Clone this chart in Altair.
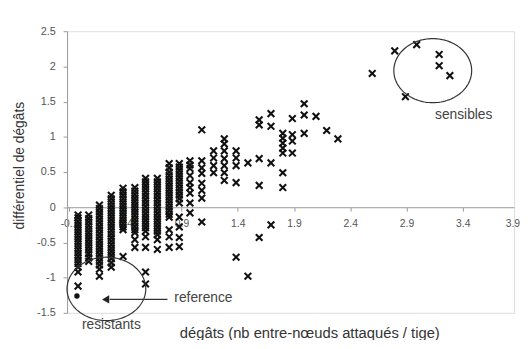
import altair as alt
import pandas as pd
import numpy as np

# x positions of the point columns (damage, nb attacked internodes / stem)
col_x = [-0.02, 0.075, 0.17, 0.275, 0.38, 0.485, 0.58, 0.685, 0.79, 0.88, 0.975, 1.08,
         1.185, 1.28, 1.385, 1.49, 1.59, 1.695, 1.8, 1.885, 1.99, 2.095, 2.19, 2.29]

y_00 = [-0.11, -0.15, -0.2, -0.25, -0.3, -0.35, -0.4, -0.45, -0.5, -0.55, -0.6, -0.65, -0.7, -0.75, -0.8, -0.85, -0.92, -1.12]
y_01 = [-0.11, -0.16, -0.21, -0.26, -0.31, -0.36, -0.41, -0.46, -0.51, -0.56, -0.61, -0.66, -0.72, -0.77]
y_02 = [0.03, -0.02, -0.07, -0.12, -0.17, -0.22, -0.27, -0.32, -0.37, -0.42, -0.47, -0.52, -0.57, -0.62, -0.67, -0.72, -0.77, -0.82, -0.88, -0.98]
y_03 = [0.17, 0.12, 0.07, 0.02, -0.03, -0.08, -0.13, -0.18, -0.23, -0.28, -0.33, -0.38, -0.43, -0.48, -0.53, -0.58, -0.63, -0.68, -0.73, -0.79, -0.85]
y_04 = [0.27, 0.22, 0.17, 0.12, 0.07, 0.02, -0.03, -0.08, -0.13, -0.18, -0.23, -0.28, -0.32, -0.70]
y_05 = [0.28, 0.23, 0.18, 0.13, 0.08, 0.03, -0.02, -0.07, -0.12, -0.17, -0.22, -0.27, -0.32, -0.36, -0.46, -0.57]
y_06 = [0.41, 0.36, 0.31, 0.26, 0.21, 0.16, 0.11, 0.06, 0.01, -0.04, -0.09, -0.14, -0.19, -0.24, -0.29, -0.34, -0.42, -0.57, -0.92, -1.09]
y_07 = [0.41, 0.36, 0.31, 0.26, 0.21, 0.16, 0.11, 0.06, 0.01, -0.04, -0.09, -0.14, -0.19, -0.24, -0.29, -0.34, -0.39, -0.46, -0.60]
y_08 = [0.62, 0.56, 0.5, 0.45, 0.4, 0.35, 0.3, 0.25, 0.2, 0.15, 0.1, 0.05, 0.0, -0.05, -0.1, -0.14, -0.32, -0.42, -0.57]
y_09 = [0.62, 0.57, 0.52, 0.47, 0.42, 0.37, 0.32, 0.27, 0.22, 0.17, 0.12, 0.06, -0.14, -0.28, -0.43, -0.56]
y_10 = [0.66, 0.6, 0.55, 0.45, 0.35, 0.28, 0.2, 0.06, -0.08]
y_11 = [1.10, 0.66, 0.56, 0.48, 0.34, 0.24, 0.13, -0.21]
y_12 = [0.80, 0.70, 0.59, 0.49]
y_13 = [0.97, 0.90, 0.80, 0.69, 0.59, 0.49, 0.38]
y_14 = [0.80, 0.70, 0.59, 0.35, -0.71]
y_15 = [0.63, -0.98]
y_16 = [1.24, 1.17, 0.69, 0.31, -0.43]
y_17 = [1.33, 1.15, 0.63, -0.25]
y_18 = [1.05, 0.98, 0.91, 0.84, 0.77, 0.49, 0.28]
y_19 = [1.26, 1.03, 0.94, 0.77]
y_20 = [1.47, 1.31, 1.05]
y_21 = [1.29]
y_22 = [1.09]
y_23 = [0.97]

col_y = [y_00, y_01, y_02, y_03, y_04, y_05, y_06, y_07, y_08, y_09, y_10, y_11,
         y_12, y_13, y_14, y_15, y_16, y_17, y_18, y_19, y_20, y_21, y_22, y_23]

# "sensibles" group
sens_x = [2.595, 2.795, 2.99, 3.19, 3.19, 3.285, 2.89]
sens_y = [1.90, 2.22, 2.31, 2.17, 2.01, 1.87, 1.57]

# reference variety
ref_x = [-0.03]
ref_y = [-1.26]

# ellipses: centre x, centre y, radius x, radius y
ell_names = ["sensibles", "resistants"]
ell_cx = [3.133, 0.232]
ell_cy = [1.94, -1.16]
ell_rx = [0.346, 0.35]
ell_ry = [0.455, 0.45]

# arrow (from label to reference point)
arrow_x = [0.775, 0.26]
arrow_y = [-1.31, -1.31]
head_x = [0.225]

# annotation texts
lab_text = ["sensibles", "resistants", "reference"]
lab_x = [3.408, 0.276, 0.836]
lab_y = [1.31, -1.68, -1.29]
lab_align = ["center", "center", "left"]

x_ticks = [-0.1, 0.4, 0.9, 1.4, 1.9, 2.4, 2.9, 3.4, 3.9]
y_ticks = [-1.5, -1, -0.5, 0, 0.5, 1, 1.5, 2, 2.5]
x_dom = [-0.1175, 3.856]
y_dom = [-1.5, 2.5]

W, H = 454, 286
FONT = "Liberation Sans"

rows = []
for cx, ys in zip(col_x, col_y):
    for yv in ys:
        rows.append({"x": cx, "y": yv})
for a, b in zip(sens_x, sens_y):
    rows.append({"x": a, "y": b})
pts = pd.DataFrame(rows)

t = np.linspace(0, 2 * np.pi, 121)
ell_rows = []
for n, cx, cy, rx, ry in zip(ell_names, ell_cx, ell_cy, ell_rx, ell_ry):
    for i, ti in enumerate(t):
        ell_rows.append({"name": n, "i": i, "x": cx + rx * np.cos(ti), "y": cy + ry * np.sin(ti)})
ell = pd.DataFrame(ell_rows)

xs = alt.Scale(domain=x_dom, nice=False, zero=False)
ys_ = alt.Scale(domain=y_dom, nice=False, zero=False)

x_off = -H * (0 - y_dom[0]) / (y_dom[1] - y_dom[0])

xaxis = alt.Axis(values=x_ticks, labelExpr="toString(datum.value)", offset=x_off,
                 tickSize=4, labelPadding=8, domainColor="#999", tickColor="#999",
                 labelColor="#555", labelFontSize=10.5, labelFont=FONT, grid=False,
                 labelOverlap=False, labelBound=False,
                 title="dégâts (nb entre-nœuds attaqués / tige)", titleFont=FONT,
                 titleFontSize=15, titleFontWeight="normal", titleColor="#333",
                 titleX=246, titleY=127, titleBaseline="middle", titleAlign="center")
yaxis = alt.Axis(values=y_ticks, labelExpr="toString(datum.value)", tickSize=4,
                 labelPadding=8, domainColor="#999", tickColor="#999",
                 labelColor="#555", labelFontSize=11, labelFont=FONT, grid=False,
                 title="différentiel de dégâts", titleFont=FONT, titleFontSize=14,
                 titleFontWeight="normal", titleColor="#333",
                 titleX=-48, titleY=136, titleBaseline="middle", titleAlign="center")

X = alt.X("x:Q", scale=xs, axis=xaxis)
Y = alt.Y("y:Q", scale=ys_, axis=yaxis)

xshape = "M-1,-1L1,1M-1,1L1,-1"

points = alt.Chart(pts).mark_point(shape=xshape, size=46, color="#111",
                                   strokeWidth=2.1, opacity=1).encode(x=X, y=Y)

ref = alt.Chart(pd.DataFrame({"x": ref_x, "y": ref_y})).mark_point(
    shape="circle", filled=True, size=30, color="#111", opacity=1).encode(x=X, y=Y)

ellipses = alt.Chart(ell).mark_line(color="#333", strokeWidth=1.2).encode(
    x=X, y=Y, detail="name:N", order="i:Q")

arrow = alt.Chart(pd.DataFrame({"x": arrow_x, "y": arrow_y})).mark_line(
    color="#333", strokeWidth=1.2).encode(x=X, y=Y)
head = alt.Chart(pd.DataFrame({"x": head_x, "y": [arrow_y[0]]})).mark_point(
    shape="triangle-left", filled=True, size=70, color="#222", opacity=1).encode(x=X, y=Y)

labs = pd.DataFrame({"t": lab_text, "x": lab_x, "y": lab_y, "a": lab_align})
texts = []
for al in ["center", "left"]:
    texts.append(alt.Chart(labs[labs.a == al]).mark_text(
        align=al, baseline="middle", font=FONT, fontSize=14, color="#444").encode(
        x=X, y=Y, text="t:N"))

# last x tick label, which falls just beyond the plot frame (kept inside the page)
last_tick = alt.Chart(pd.DataFrame({"x": [x_ticks[-1]], "y": [0.0], "t": ["3.9"]})).mark_text(
    align="right", baseline="top", dy=12, dx=1, font=FONT, fontSize=10.5, color="#555").encode(
    x=X, y=Y, text="t:N")

chart = alt.layer(points, ref, ellipses, arrow, head, *texts, last_tick).properties(
    width=W, height=H,
    autosize=alt.AutoSizeParams(type="none"),
    padding={"left": 60, "top": 21, "right": 6, "bottom": 25},
).configure_view(stroke="#999", strokeWidth=1).configure(background="white")

chart.save("out.html", embed_options={"renderer": "svg", "actions": False})
